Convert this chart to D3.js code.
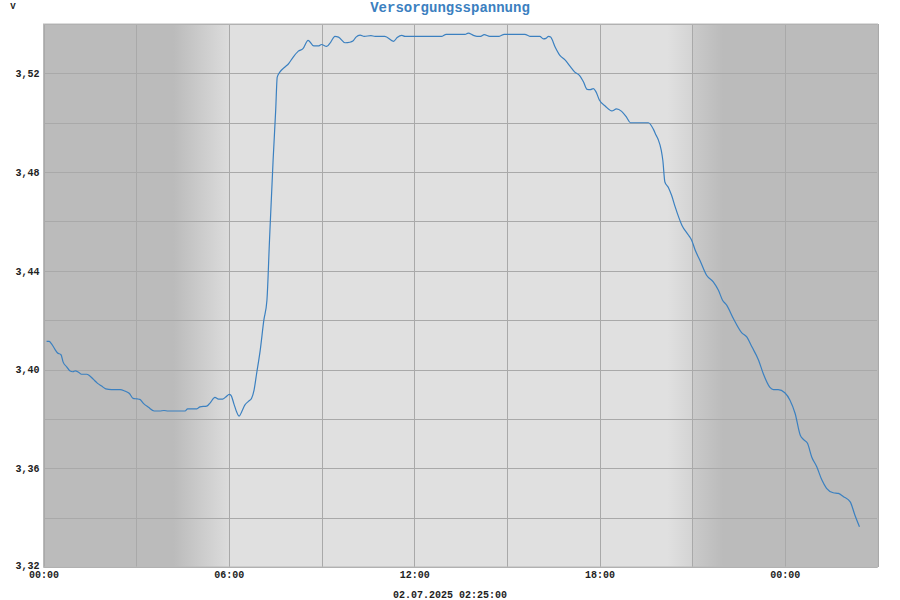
<!DOCTYPE html>
<html>
<head>
<meta charset="utf-8">
<script src="https://cdn.jsdelivr.net/npm/d3@7"></script>
<style>
  html, body { margin: 0; padding: 0; background: #ffffff; }
  svg { display: block; }
  text { font-family: "Liberation Mono", "Courier New", monospace; font-weight: bold; }
</style>
</head>
<body>
<svg id="chart" width="900" height="600"></svg>
<script>
// ---- data (minutes since 01.07.2025 00:00, volts) ----
const title = "Versorgungsspannung";
const unitLabel = "V";
const caption = "02.07.2025 02:25:00";
const timeMinutes = [
  6, 11, 16, 22, 27, 34, 38, 45, 51, 57, 62, 68, 74, 84, 89, 97, 105, 113, 121, 132,
  149, 158, 167, 174, 182, 187, 194, 204, 215, 226, 234, 242, 275, 280, 298, 304, 317, 323, 333, 340,
  348, 354, 361, 364, 370, 375, 380, 385, 391, 398, 404, 409, 414, 421, 428, 434, 439, 446, 451, 454,
  459, 469, 476, 485, 495, 504, 514, 525, 534, 540, 550, 558, 566, 573, 586, 595, 601, 607, 615, 623,
  636, 644, 663, 680, 687, 696, 702, 774, 782, 819, 825, 835, 842, 849, 856, 867, 885, 895, 935, 945,
  964, 971, 976, 981, 985, 994, 1003, 1013, 1023, 1032, 1041, 1049, 1056, 1062, 1068, 1073, 1080, 1091, 1104, 1113,
  1123, 1133, 1140, 1175, 1185, 1190, 1194, 1200, 1203, 1207, 1214, 1220, 1227, 1240, 1253, 1259, 1266, 1275, 1288, 1301,
  1311, 1319, 1327, 1340, 1356, 1366, 1376, 1389, 1398, 1411, 1418, 1427, 1440, 1450, 1460, 1470, 1476, 1484, 1492, 1502,
  1512, 1521, 1534, 1544, 1554, 1567, 1576, 1585
];
const voltage = [
  3.4114, 3.4114, 3.4103, 3.4083, 3.4068, 3.4060, 3.4031, 3.4011, 3.3995, 3.3991, 3.3995, 3.3989, 3.3981, 3.3981, 3.3976, 3.3960, 3.3944, 3.3933, 3.3922, 3.3919,
  3.3919, 3.3913, 3.3903, 3.3883, 3.3881, 3.3879, 3.3863, 3.3847, 3.3832, 3.3832, 3.3834, 3.3832, 3.3832, 3.3841, 3.3841, 3.3849, 3.3852, 3.3863, 3.3887, 3.3880,
  3.3880, 3.3889, 3.3899, 3.3896, 3.3860, 3.3829, 3.3811, 3.3829, 3.3856, 3.3871, 3.3883, 3.3917, 3.3984, 3.4079, 3.4200, 3.4281, 3.4524, 3.4848, 3.5050, 3.5185,
  3.5205, 3.5226, 3.5239, 3.5266, 3.5290, 3.5300, 3.5334, 3.5311, 3.5311, 3.5317, 3.5309, 3.5327, 3.5350, 3.5347, 3.5324, 3.5326, 3.5331, 3.5347, 3.5355, 3.5350,
  3.5353, 3.5350, 3.5350, 3.5330, 3.5345, 3.5354, 3.5350, 3.5350, 3.5358, 3.5358, 3.5363, 3.5354, 3.5350, 3.5350, 3.5357, 3.5350, 3.5350, 3.5358, 3.5358, 3.5350,
  3.5350, 3.5340, 3.5342, 3.5350, 3.5347, 3.5306, 3.5273, 3.5255, 3.5228, 3.5205, 3.5192, 3.5165, 3.5135, 3.5134, 3.5138, 3.5126, 3.5091, 3.5068, 3.5048, 3.5056,
  3.5046, 3.5021, 3.5000, 3.5000, 3.4972, 3.4949, 3.4932, 3.4888, 3.4848, 3.4760, 3.4737, 3.4706, 3.4659, 3.4585, 3.4544, 3.4524, 3.4483, 3.4443, 3.4382, 3.4355,
  3.4321, 3.4281, 3.4261, 3.4207, 3.4150, 3.4132, 3.4092, 3.4038, 3.3984, 3.3928, 3.3919, 3.3919, 3.3906, 3.3876, 3.3822, 3.3734, 3.3717, 3.3701, 3.3647, 3.3606,
  3.3552, 3.3519, 3.3501, 3.3498, 3.3485, 3.3464, 3.3411, 3.3363
];
const xTickHours = [0, 6, 12, 18, 24];
const xTickLabels = ["00:00", "06:00", "12:00", "18:00", "00:00"];
const yTickValues = [3.32, 3.36, 3.40, 3.44, 3.48, 3.52];
const yTickLabels = ["3,32", "3,36", "3,40", "3,44", "3,48", "3,52"];
// day/night shading in hours: [hour, grey level]
const shadeStops = [[0, "#bbbbbb"], [4.2, "#bbbbbb"], [6.0, "#dcdcdc"], [6.05, "#e0e0e0"],
                    [20.2, "#e0e0e0"], [20.98, "#d4d4d4"], [21.0, "#cacaca"], [22.0, "#bbbbbb"], [27, "#bbbbbb"]];

// ---- layout ----
const L = 43.5, R = 877.5, T = 24, B = 567;
const svg = d3.select("#chart");
const x = d3.scaleLinear().domain([0, 27]).range([L, R]);
const y = d3.scaleLinear().domain([3.32, 3.54]).range([B, T]);

// gradient background
const defs = svg.append("defs");
const grad = defs.append("linearGradient").attr("id", "shade")
  .attr("gradientUnits", "userSpaceOnUse")
  .attr("x1", L).attr("x2", R).attr("y1", 0).attr("y2", 0);
grad.selectAll("stop").data(shadeStops).join("stop")
  .attr("offset", d => (x(d[0]) - L) / (R - L))
  .attr("stop-color", d => d[1]);
svg.append("rect").attr("x", L).attr("y", T).attr("width", R - L).attr("height", B - T)
  .attr("fill", "url(#shade)");

// grid
const gridColor = "#a9a9a9";
svg.append("g").selectAll("line").data(d3.range(0, 27.01, 3)).join("line")
  .attr("x1", d => Math.round(x(d)) + 0.5).attr("x2", d => Math.round(x(d)) + 0.5)
  .attr("y1", T).attr("y2", B).attr("stroke", gridColor).attr("stroke-width", 1);
svg.append("g").selectAll("line").data(d3.range(3.32, 3.5401, 0.02)).join("line")
  .attr("x1", L).attr("x2", R)
  .attr("y1", d => Math.round(y(d)) + 0.5).attr("y2", d => Math.round(y(d)) + 0.5)
  .attr("stroke", gridColor).attr("stroke-width", 1);
svg.append("rect").attr("x", L).attr("y", T).attr("width", R - L).attr("height", B - T)
  .attr("fill", "none").attr("stroke", "#b9b9b9").attr("stroke-width", 1);

// line
const pts = timeMinutes.map((t, i) => [t / 60, voltage[i]]);
svg.append("path").datum(pts)
  .attr("d", d3.line().x(d => x(d[0])).y(d => y(d[1])).curve(d3.curveMonotoneX))
  .attr("fill", "none").attr("stroke", "#3b80c0").attr("stroke-width", 1.2);

// axes labels
const xAxis = d3.axisBottom(x).tickValues(xTickHours).tickSize(0).tickPadding(4)
  .tickFormat((d, i) => xTickLabels[i]);
const gx = svg.append("g").attr("transform", `translate(0,${B})`).call(xAxis);
gx.select(".domain").remove();
gx.selectAll("text").attr("font-size", 10).attr("fill", "#222")
  .attr("font-family", "'Liberation Mono', monospace").attr("font-weight", "bold");

const yAxis = d3.axisLeft(y).tickValues(yTickValues).tickSize(0).tickPadding(4)
  .tickFormat((d, i) => yTickLabels[i]);
const gy = svg.append("g").attr("transform", `translate(${L},0)`).call(yAxis);
gy.select(".domain").remove();
gy.selectAll("text").attr("font-size", 10).attr("fill", "#222")
  .attr("font-family", "'Liberation Mono', monospace").attr("font-weight", "bold")
  .attr("dy", (d, i) => i === 0 ? "0.1em" : "0.32em");

// titles
svg.append("text").attr("x", 450).attr("y", 12).attr("text-anchor", "middle")
  .attr("font-size", 14).attr("fill", "#3b80c0").text(title);
svg.append("text").attr("x", 13).attr("y", 9).attr("text-anchor", "middle")
  .attr("font-size", 9).attr("fill", "#222").text(unitLabel);
svg.append("text").attr("x", 450).attr("y", 598).attr("text-anchor", "middle")
  .attr("font-size", 10).attr("fill", "#222").text(caption);
</script>
</body>
</html>
